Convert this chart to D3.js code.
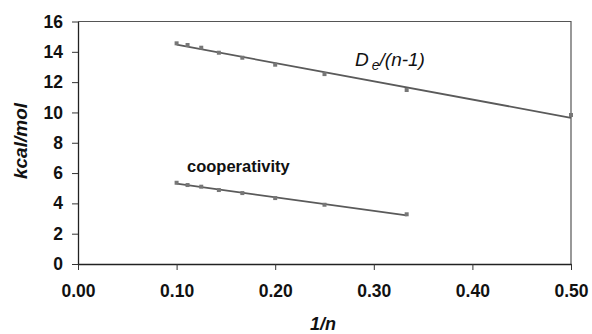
<!DOCTYPE html>
<html>
<head>
<meta charset="utf-8">
<script src="https://cdn.jsdelivr.net/npm/d3@7"></script>
<style>
  html, body { margin: 0; padding: 0; background: #fff; }
  svg { display: block; font-family: "Liberation Sans", Arial, sans-serif; }
</style>
</head>
<body>
<svg id="chart" width="592" height="334"></svg>
<script>
// 1/n for n = 10 .. 2
const invN = [0.1, 1/9, 0.125, 1/7, 1/6, 0.2, 0.25, 1/3, 0.5];
// D_e/(n-1), kcal/mol
const deValues = [14.56, 14.45, 14.27, 13.94, 13.61, 13.15, 12.53, 11.48, 9.83];
// cooperativity, kcal/mol (n = 10 .. 3)
const coopX = [0.1, 1/9, 0.125, 1/7, 1/6, 0.2, 0.25, 1/3];
const coopValues = [5.36, 5.21, 5.10, 4.88, 4.68, 4.35, 3.91, 3.28];
const xTicks = [0, 0.1, 0.2, 0.3, 0.4, 0.5];
const yTicks = [0, 2, 4, 6, 8, 10, 12, 14, 16];

const svg = d3.select("#chart");
const x = d3.scaleLinear().domain([0, 0.5]).range([78, 571]);
const y = d3.scaleLinear().domain([0, 16]).range([264, 21.5]);

// least-squares fit
function fit(xs, ys) {
  const n = xs.length;
  const mx = d3.mean(xs), my = d3.mean(ys);
  let sxy = 0, sxx = 0;
  for (let i = 0; i < n; i++) { sxy += (xs[i]-mx)*(ys[i]-my); sxx += (xs[i]-mx)**2; }
  const b = sxy / sxx;
  return { a: my - b*mx, b };
}

// frame (top and right)
svg.append("path")
  .attr("d", `M${x(0)},${y(16)}H${x(0.5)}V${y(0)}`)
  .attr("fill", "none").attr("stroke", "#555").attr("stroke-width", 1.2);

// axes
const xAxis = svg.append("g").attr("transform", `translate(0,${y(0)})`)
  .call(d3.axisBottom(x).tickValues(xTicks).tickFormat(d3.format(".2f")).tickSize(6).tickSizeOuter(0));
const yAxis = svg.append("g").attr("transform", `translate(${x(0)},0)`)
  .call(d3.axisLeft(y).tickValues(yTicks).tickFormat(d3.format("d")).tickSize(6).tickSizeOuter(0));
[xAxis, yAxis].forEach(g => {
  g.select(".domain").attr("stroke", "#222").attr("stroke-width", 1.3);
  g.selectAll(".tick line").attr("stroke", "#333").attr("stroke-width", 1);
  g.selectAll("text").attr("fill", "#111").attr("font-size", 17.5).attr("font-weight", "bold")
    .attr("font-family", "Liberation Sans, Arial, sans-serif");
});
xAxis.selectAll("text").attr("y", 21);
yAxis.selectAll("text").attr("x", -15);

// series
function drawSeries(xs, ys) {
  const f = fit(xs, ys);
  const x0 = d3.min(xs), x1 = d3.max(xs);
  svg.append("line")
    .attr("x1", x(x0)).attr("y1", y(f.a + f.b*x0))
    .attr("x2", x(x1)).attr("y2", y(f.a + f.b*x1))
    .attr("stroke", "#5a5a5a").attr("stroke-width", 1.8);
  svg.append("g").selectAll("rect").data(xs).join("rect")
    .attr("x", (d) => x(d) - 2).attr("y", (d, i) => y(ys[i]) - 2)
    .attr("width", 4).attr("height", 4).attr("fill", "#777");
}
drawSeries(invN, deValues);
drawSeries(coopX, coopValues);

// series labels
const de = svg.append("text").attr("x", 355).attr("y", 66)
  .attr("font-size", 19).attr("font-style", "italic").attr("fill", "#111");
de.append("tspan").text("D");
de.append("tspan").attr("font-size", 14).attr("dy", 4).attr("dx", 3).text("e");
de.append("tspan").attr("dy", -4).text("/(n-1)");

svg.append("text").attr("x", 187).attr("y", 172)
  .attr("font-size", 16.5).attr("font-weight", "bold").attr("fill", "#111")
  .text("cooperativity");

// axis titles
svg.append("text").attr("x", 323).attr("y", 330).attr("text-anchor", "middle")
  .attr("font-size", 18).attr("font-weight", "bold").attr("font-style", "italic").attr("fill", "#111")
  .text("1/n");
svg.append("text").attr("transform", "translate(27,141) rotate(-90)").attr("text-anchor", "middle")
  .attr("font-size", 19).attr("font-weight", "bold").attr("font-style", "italic").attr("fill", "#111")
  .text("kcal/mol");
</script>
</body>
</html>
